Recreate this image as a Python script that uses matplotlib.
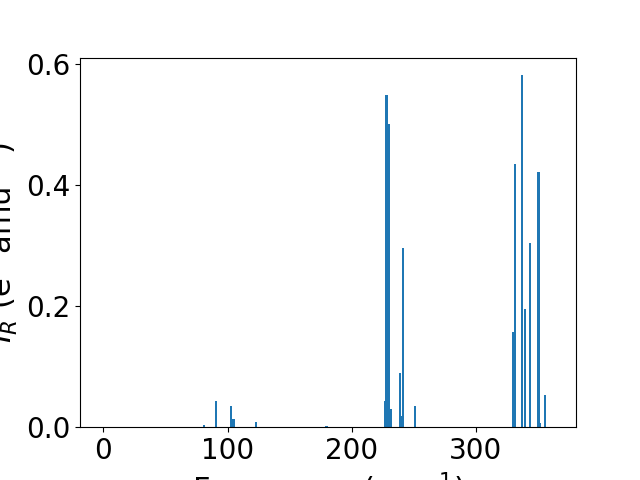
import matplotlib
matplotlib.use("Agg")
import matplotlib.pyplot as plt

# частоты мод (см^-1) и ИК интенсивности
freqs = [0.0, 81.2, 90.9, 102.8, 104.8, 122.8, 179.7,
         226.5, 228.0, 230.3, 231.6, 238.8, 240.4, 241.5, 251.0,
         329.8, 331.4, 337.3, 339.3, 343.9, 350.4, 351.6, 355.5]
intens = [0.0, 0.004, 0.0434, 0.035, 0.0137, 0.009, 0.002,
          0.0434, 0.550, 0.501, 0.030, 0.0897, 0.0187, 0.296, 0.035,
          0.157, 0.435, 0.582, 0.1954, 0.304, 0.4216, 0.007, 0.0535]

plt.rcParams["font.size"] = 20

fig, ax = plt.subplots(figsize=(6.4, 4.8), dpi=100)
ax.bar(freqs, intens, width=1.7, color="C0")
ax.set_xlim(-18.8, 380.6)
ax.set_xlabel("Frequency (cm$^{-1}$)", fontsize=22)
ax.set_ylabel("$I_R$ (e$^2$ amu$^{-1}$)", fontsize=22)

fig.savefig("out.png")
